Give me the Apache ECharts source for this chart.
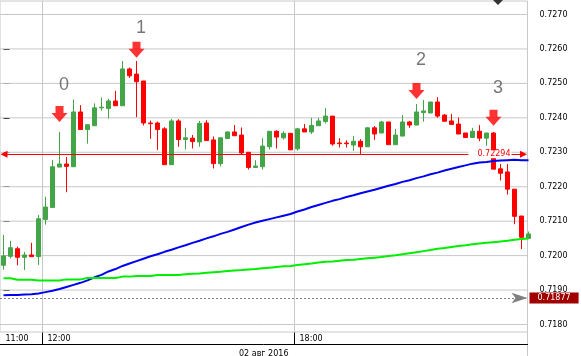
<!DOCTYPE html>
<html><head><meta charset="utf-8">
<script src="https://cdn.jsdelivr.net/npm/echarts@6/dist/echarts.min.js"></script>
<style>html,body{margin:0;padding:0;background:#fff;}#c{width:581px;height:356px;}</style>
</head><body><div id="c"></div>
<script>
// 10-minute candles, index 0 = 11:00
const opens = [0.71972,0.71998,0.72020,0.71995,0.72002,0.71997,0.72105,0.72140,0.72257,0.72266,
0.72258,0.72417,0.72366,0.72377,0.72429,0.72427,0.72449,0.72435,0.72542,0.72527,
0.72507,0.72385,0.72385,0.72368,0.72264,0.72391,0.72337,0.72341,0.72330,0.72385,
0.72336,0.72267,0.72340,0.72359,0.72350,0.72300,0.72256,0.72258,0.72316,0.72361,
0.72342,0.72355,0.72310,0.72368,0.72359,0.72377,0.72389,0.72405,0.72327,0.72327,
0.72321,0.72332,0.72316,0.72371,0.72356,0.72388,0.72322,0.72347,0.72388,0.72379,
0.72415,0.72414,0.72446,0.72408,0.72391,0.72382,0.72356,0.72343,0.72361,0.72341,
0.72356,0.72252,0.72243,0.72193,0.72115,0.72050];
const closes = [0.71999,0.72023,0.71995,0.72002,0.71997,0.72107,0.72141,0.72258,0.72266,0.72259,
0.72417,0.72366,0.72380,0.72429,0.72431,0.72449,0.72435,0.72542,0.72522,0.72505,
0.72385,0.72383,0.72366,0.72264,0.72391,0.72337,0.72342,0.72331,0.72384,0.72334,
0.72267,0.72342,0.72359,0.72348,0.72298,0.72256,0.72260,0.72318,0.72361,0.72344,
0.72355,0.72307,0.72368,0.72359,0.72378,0.72391,0.72405,0.72324,0.72325,0.72325,
0.72332,0.72316,0.72371,0.72353,0.72388,0.72322,0.72350,0.72388,0.72379,0.72417,
0.72420,0.72446,0.72405,0.72390,0.72381,0.72353,0.72343,0.72361,0.72341,0.72356,
0.72251,0.72239,0.72193,0.72114,0.72053,0.72063];
const lows = [0.71959,0.71992,0.71972,0.71958,0.71997,0.71973,0.72090,0.72140,0.72257,0.72184,
0.72258,0.72366,0.72325,0.72377,0.72421,0.72398,0.72435,0.72435,0.72516,0.72402,
0.72378,0.72339,0.72307,0.72264,0.72264,0.72316,0.72308,0.72311,0.72316,0.72334,
0.72253,0.72259,0.72340,0.72348,0.72294,0.72250,0.72256,0.72250,0.72308,0.72311,
0.72337,0.72307,0.72305,0.72359,0.72353,0.72377,0.72384,0.72319,0.72314,0.72314,
0.72304,0.72295,0.72316,0.72336,0.72356,0.72322,0.72322,0.72347,0.72371,0.72379,
0.72389,0.72414,0.72400,0.72390,0.72381,0.72353,0.72343,0.72343,0.72332,0.72319,
0.72251,0.72218,0.72177,0.72091,0.72019,0.72048];
const highs = [0.72060,0.72043,0.72026,0.72011,0.72037,0.72118,0.72171,0.72278,0.72359,0.72286,
0.72453,0.72437,0.72380,0.72442,0.72459,0.72455,0.72478,0.72565,0.72546,0.72565,
0.72507,0.72392,0.72389,0.72373,0.72397,0.72396,0.72371,0.72350,0.72391,0.72393,
0.72346,0.72344,0.72361,0.72379,0.72372,0.72300,0.72277,0.72341,0.72361,0.72364,
0.72361,0.72355,0.72371,0.72382,0.72400,0.72400,0.72428,0.72405,0.72341,0.72335,
0.72347,0.72338,0.72373,0.72376,0.72391,0.72388,0.72368,0.72408,0.72391,0.72440,
0.72452,0.72446,0.72460,0.72411,0.72411,0.72401,0.72356,0.72371,0.72379,0.72356,
0.72359,0.72266,0.72266,0.72193,0.72115,0.72070];
const maBlue = [0.71885,0.71886,0.71886,0.71887,0.71888,0.71890,0.71894,0.71898,0.71903,0.71909,
0.71915,0.71921,0.71928,0.71937,0.71944,0.71954,0.71961,0.71970,0.71977,0.71984,
0.71991,0.71998,0.72004,0.72011,0.72017,0.72024,0.72030,0.72037,0.72043,0.72050,
0.72056,0.72063,0.72069,0.72076,0.72083,0.72090,0.72096,0.72101,0.72106,0.72111,
0.72116,0.72121,0.72128,0.72134,0.72141,0.72147,0.72153,0.72159,0.72164,0.72170,
0.72175,0.72181,0.72186,0.72191,0.72197,0.72203,0.72208,0.72214,0.72219,0.72225,
0.72230,0.72236,0.72241,0.72247,0.72252,0.72257,0.72262,0.72267,0.72270,0.72272,
0.72275,0.72276,0.72277,0.72278,0.72277,0.72277];
const maGreen = [0.71934,0.71934,0.71930,0.71930,0.71930,0.71928,0.71928,0.71928,0.71928,0.71931,
0.71931,0.71931,0.71935,0.71935,0.71935,0.71935,0.71935,0.71939,0.71939,0.71941,
0.71941,0.71941,0.71944,0.71944,0.71944,0.71944,0.71946,0.71947,0.71948,0.71950,
0.71952,0.71953,0.71955,0.71957,0.71958,0.71960,0.71961,0.71963,0.71965,0.71967,
0.71969,0.71970,0.71973,0.71975,0.71977,0.71980,0.71982,0.71983,0.71985,0.71987,
0.71988,0.71990,0.71992,0.71994,0.71996,0.71999,0.72001,0.72004,0.72007,0.72010,
0.72013,0.72016,0.72020,0.72022,0.72025,0.72028,0.72030,0.72033,0.72035,0.72037,
0.72039,0.72041,0.72043,0.72046,0.72048,0.72050];
const hourTickPos = [-0.4286, 5.5714, 41.5714];
const hourTickLabels = ['11:00', '12:00', '18:00'];
const dateLabel = '02 авг 2016';
const yTicks = [0.7180, 0.7190, 0.7200, 0.7210, 0.7220, 0.7230, 0.7240, 0.7250, 0.7260, 0.7270];
const levelLine = 0.72294;
const priceLine = 0.71877;
const arrowPos = [[8, 0.72411], [19, 0.72598], [59, 0.72478], [70, 0.72400]];
const markerLabels = ['0', '1', '2', '3'];
const markerLabelPos = [[8.64, 0.72495], [19.64, 0.72661], [59.64, 0.72568], [70.64, 0.72487]];
const X_MIN = -0.5, X_MAX = 74.857, Y_MIN = 0.7177823, Y_MAX = 0.7273919;

const FONT = 'DejaVu Sans';
const UP = '#44a448', DOWN = '#ff0000', GRID = '#c8c8c8';
const candleData = opens.map((o, i) => [i, o, closes[i], lows[i], highs[i]]);

// horizontal price gridlines drawn as plain line series through the axes
const gridSeries = yTicks.map(v => ({
  type: 'line', data: [[X_MIN, v], [X_MAX, v]], showSymbol: false, symbol: 'none', silent: true,
  clip: false, z: 1, lineStyle: {color: GRID, width: 1, type: 'solid'}, emphasis: {disabled: true}
}));

const chart = echarts.init(document.getElementById('c'), null, {renderer: 'canvas'});
chart.setOption({
  animation: false,
  grid: {left: 0, top: 1, right: 53.5, bottom: 24, show: true, borderColor: GRID, borderWidth: 1,
    backgroundColor: 'transparent', containLabel: false, outerBoundsMode: 'none'},
  xAxis: {
    type: 'value', min: X_MIN, max: X_MAX, offset: 12.5,
    axisLine: {show: true, onZero: false, lineStyle: {color: '#000', width: 1}},
    axisTick: {show: true, inside: true, length: 12, customValues: hourTickPos.slice(1), lineStyle: {color: '#000'}},
    axisLabel: {
      show: true, inside: true, customValues: hourTickPos, margin: 2, align: 'left', padding: [0, 0, 0, 5],
      fontFamily: FONT, fontSize: 8, color: '#000',
      formatter: v => { let k = 0, d = 1e9; hourTickPos.forEach((p, i) => { if (Math.abs(p - v) < d) { d = Math.abs(p - v); k = i; } }); return hourTickLabels[k]; }
    },
    splitLine: {show: true, lineStyle: {color: GRID, width: 1}},
    name: dateLabel, nameLocation: 'middle', nameGap: 1,
    nameTextStyle: {fontFamily: FONT, fontSize: 8, color: '#000'}
  },
  yAxis: {
    type: 'value', position: 'right', min: Y_MIN, max: Y_MAX,
    axisLine: {show: false},
    axisTick: {show: true, length: 6, customValues: yTicks, lineStyle: {color: '#000', width: 1}},
    axisLabel: {show: true, customValues: yTicks, margin: 12, fontFamily: FONT, fontSize: 8, color: '#000', formatter: v => v.toFixed(4)},
    splitLine: {show: false}
  },
  series: gridSeries.concat([
    {
      type: 'candlestick', data: candleData, barWidth: 4, clip: true, silent: true, z: 2,
      itemStyle: {color: UP, color0: DOWN, borderColor: UP, borderColor0: DOWN, borderWidth: 1}
    },
    {type: 'line', data: maBlue.map((v, i) => [i, v]), showSymbol: false, symbol: 'none', silent: true,
      lineStyle: {color: '#0000f0', width: 2}, z: 3},
    {type: 'line', data: maGreen.map((v, i) => [i, v]), showSymbol: false, symbol: 'none', silent: true,
      lineStyle: {color: '#00ee00', width: 2}, z: 3},
    {
      type: 'line', data: [], clip: false, silent: true, z: 4,
      markLine: {
        silent: true, animation: false, precision: 5,
        data: [
          [
            {coord: [X_MIN + 0.57, levelLine], symbol: 'triangle', symbolSize: [7, 7],
              lineStyle: {color: '#ff0000', width: 1, type: 'solid'},
              label: {show: true, position: 'insideEnd', distance: [12, 0], formatter: () => levelLine.toFixed(5),
                color: '#ff0000', backgroundColor: '#fff', padding: [0, 1, 0, 9], fontFamily: FONT, fontSize: 8}},
            {coord: [X_MAX - 0.57, levelLine], symbol: 'triangle', symbolSize: [7, 7]}
          ],
          {yAxis: priceLine, symbol: 'none',
            lineStyle: {color: '#808080', width: 1, type: [2, 2]},
            label: {show: true, position: 'end', distance: [2, 0], formatter: () => priceLine.toFixed(5),
              color: '#fff', backgroundColor: '#a00000', padding: [1, 8, 0, 8], lineHeight: 10, fontFamily: FONT, fontSize: 8}}
        ]
      }
    },
    {type: 'scatter', data: arrowPos, symbol: 'path://M4,0L12,0L12,7L16,7L8,16L0,7L4,7Z', symbolSize: [16, 16],
      itemStyle: {color: '#ff0000'}, z: 5, silent: true, clip: false},
    {type: 'scatter', data: markerLabelPos.map((p, i) => ({value: p, name: markerLabels[i]})), symbolSize: 1,
      itemStyle: {color: 'rgba(0,0,0,0)'}, z: 5, silent: true, clip: false,
      label: {show: true, position: 'inside', formatter: '{b}', fontFamily: 'Liberation Sans', fontSize: 18, color: '#555'}}
  ]),
  graphic: [
    {type: 'line', silent: true, shape: {x1: 527.5, y1: 332, x2: 527.5, y2: 356}, style: {stroke: GRID, lineWidth: 1}},
    {type: 'polygon', silent: true, shape: {points: [[493, 0], [503, 0], [498, 5]]}, style: {fill: '#333'}}
  ]
});
</script></body></html>
